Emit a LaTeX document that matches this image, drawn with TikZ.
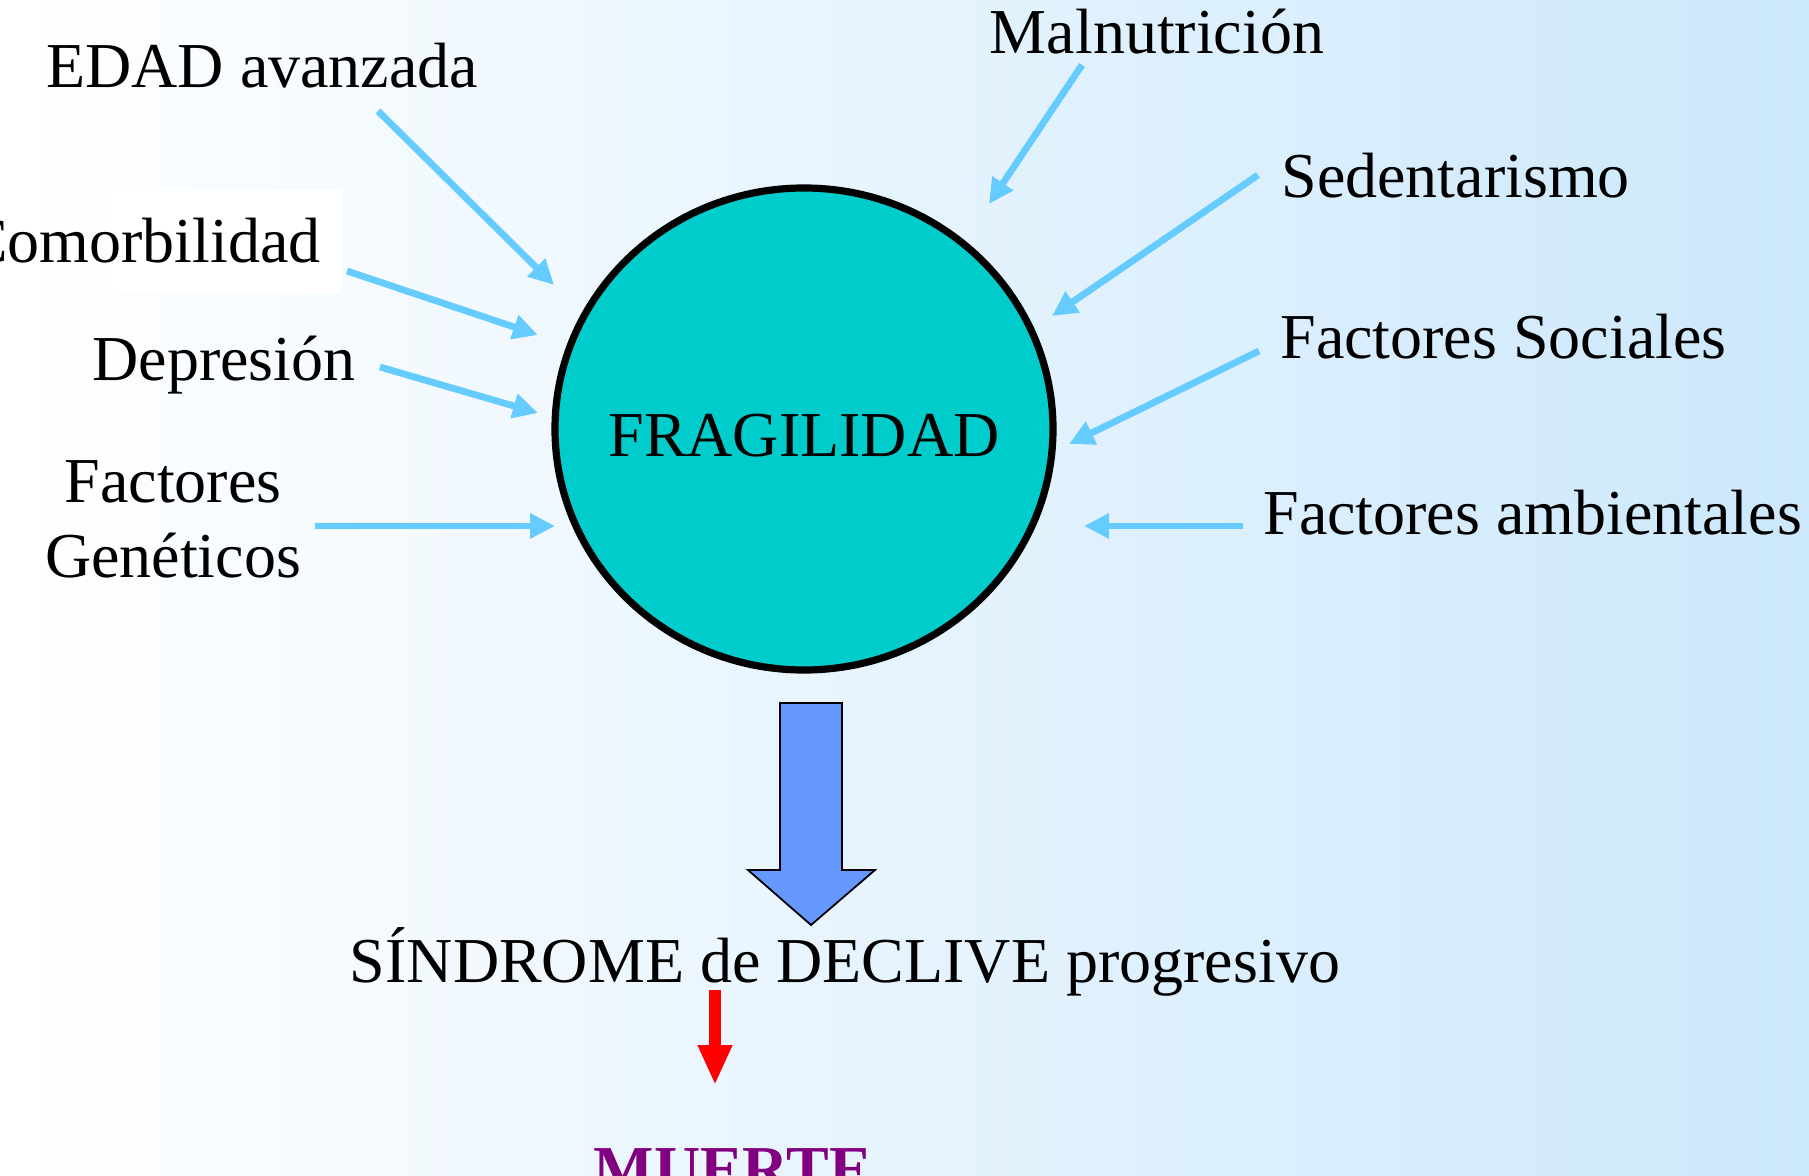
\documentclass[tikz,border=0pt]{standalone}
\usepackage{fontspec}
\setmainfont{Liberation Serif}
\usetikzlibrary{arrows.meta,shapes.geometric}
\definecolor{bgR}{RGB}{204,232,252}
\definecolor{feed}{HTML}{66CCFF}
\definecolor{turq}{HTML}{00CCCC}
\definecolor{bigblue}{HTML}{6699FF}
\definecolor{muerte}{HTML}{800080}
\tikzset{
  lbl/.style={inner sep=0pt, font=\fontsize{32}{37.5}\selectfont},
  feedarrow/.style={draw=feed, line width=3.4pt, -{Triangle[length=12.5pt,width=12pt]}},
}
\begin{document}
\begin{tikzpicture}[x=0.5pt,y=-0.5pt]
\useasboundingbox (0,0) rectangle (1809,1176);
\shade[left color=white, right color=bgR] (0,0) rectangle (1809,1176);
\fill[white] (113,190) rectangle (341,293);

% circle
\node[ellipse, draw=black, line width=3.6pt, fill=turq, minimum width=249pt, minimum height=241pt, inner sep=0pt] (frag) at (804,429) {};
\node[lbl, anchor=base] (fragtxt) at (804,456) {FRAGILIDAD};

% labels
\node[lbl, anchor=base west] (edad) at (46,88) {EDAD avanzada};
\node[lbl, anchor=base east] (comor) at (321,263) {Comorbilidad};
\node[lbl, anchor=base west] (depre) at (92,381) {Depresión};
\node[lbl, anchor=base, align=center] (genet) at (173,577) {Factores\\Genéticos};
\node[lbl, anchor=base] (malnu) at (1157,54) {Malnutrición};
\node[lbl, anchor=base west] (seden) at (1281,198) {Sedentarismo};
\node[lbl, anchor=base west] (socia) at (1280,359) {Factores Sociales};
\node[lbl, anchor=base west] (ambie) at (1263,534) {Factores ambientales};
\node[lbl, anchor=base] (sindr) at (845,982) {SÍNDROME de DECLIVE progresivo};
\node[lbl, anchor=base, font=\fontsize{32}{37.5}\selectfont\bfseries, text=muerte] (muer) at (733,1190) {MUERTE};

% arrow end points
\coordinate (edadS) at (378,111);  \coordinate (edadE) at (554,285);
\coordinate (comS) at (347,271);   \coordinate (comE) at (538,335);
\coordinate (depS) at (380,367);   \coordinate (depE) at (538,413);
\coordinate (genS) at (315,526);   \coordinate (genE) at (555,526);
\coordinate (malS) at (1082,65);   \coordinate (malE) at (989,204);
\coordinate (sedS) at (1258,175);  \coordinate (sedE) at (1052,316);
\coordinate (socS) at (1259,351);  \coordinate (socE) at (1069,444);
\coordinate (ambS) at (1243,526);  \coordinate (ambE) at (1084,526);

\draw[feedarrow] (edadS) -- (edadE);
\draw[feedarrow] (comS) -- (comE);
\draw[feedarrow] (depS) -- (depE);
\draw[feedarrow] (genS) -- (genE);
\draw[feedarrow] (malS) -- (malE);
\draw[feedarrow] (sedS) -- (sedE);
\draw[feedarrow] (socS) -- (socE);
\draw[feedarrow] (ambS) -- (ambE);

% big block arrow
\draw[fill=bigblue, draw=black, line width=0.9pt, line join=miter]
  (780,703) -- (842,703) -- (842,870) -- (875,870) -- (811,925) -- (748,870) -- (780,870) -- cycle;

% red arrow
\coordinate (redS) at (715,990);
\coordinate (redE) at (715,1085);
\draw[red, line width=6pt, -{Triangle[length=20pt,width=16pt]}] (redS) -- (redE);
\end{tikzpicture}
\end{document}
